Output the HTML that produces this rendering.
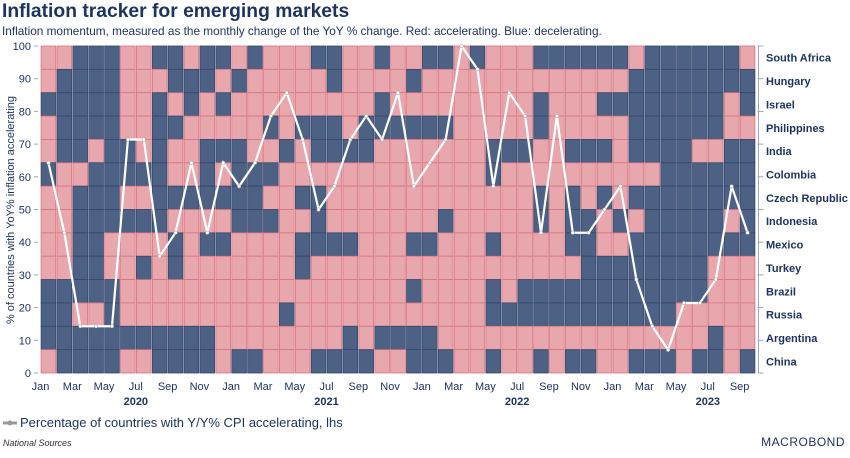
<!DOCTYPE html>
<html><head><meta charset="utf-8"><style>
body{margin:0;background:#fff;width:850px;height:453px;overflow:hidden;font-family:"Liberation Sans",sans-serif;}
</style></head><body>
<svg id="chart" width="850" height="453" viewBox="0 0 850 453" xmlns="http://www.w3.org/2000/svg" font-family="Liberation Sans, sans-serif">
<text x="2" y="17" font-size="19.3" font-weight="bold" fill="#1d3461">Inflation tracker for emerging markets</text>
<text x="2" y="35" font-size="11.8" fill="#1d3461">Inflation momentum, measured as the monthly change of the YoY % change. Red: accelerating. Blue: decelerating.</text>
<text transform="translate(14,210) rotate(-90)" text-anchor="middle" font-size="11" fill="#1d3461">% of countries with YoY% inflation accelerating</text>
<g id="cells"></g>
<g id="axes"></g>
<g id="line"></g>
<g>
<line x1="3" y1="423" x2="17" y2="423" stroke="#999" stroke-width="3"/>
<circle cx="10" cy="423" r="2.5" fill="#999"/>
<text x="20" y="427" font-size="13" fill="#1d3461">Percentage of countries with Y/Y% CPI accelerating, lhs</text>
</g>
<text x="3" y="446" font-size="9" font-style="italic" fill="#333">National Sources</text>
<text x="845" y="446" text-anchor="end" font-size="12" fill="#1d3461" letter-spacing="0.5">MACROBOND</text>
</svg>
<script>
const countries=["South Africa","Hungary","Israel","Philippines","India","Colombia","Czech Republic","Indonesia","Mexico","Turkey","Brazil","Russia","Argentina","China"];
const months=["Jan","Feb","Mar","Apr","May","Jun","Jul","Aug","Sep","Oct","Nov","Dec"];
const years=["2020","2021","2022","2023"];
// one string per month, top-to-bottom country order; R = accelerating, B = decelerating
const status=[
"RRBRRBRRRRBBBR","RBBBBRRRRRBBBB","BBBBBRBBBBBRBB","BBBBRBBBBBBRBB","BBBBBBBBRRBBBB","RRRRBBRBRRRRBR",
"RRRRRBRBRBRRBR","BRBBBBBBRRRRBB","BBRBRRBRBBRRBB","RBBRRRBRRRRRBB","BBRRBBBRBRRRBB","BRBRBRBRBRRRRR",
"RBRRBBBBRRRRRB","BRRRRBBBRRRRRB","RRRBRBRBRRRRRR","RRRRBRRRRRRBRR","RRRBRRBRBBRRRR","BRRBBRBBBRRRRB",
"BBRBBRRRBRRRRB","RRRRBRRRBRRRBB","RRRBBRRRRRRRRB","BRBBRRRRRRRRBR","RRRBRRRRRRRRBR","RBRBRRRRBRBRBB",
"BRRBRRRRBRRRBB","BRRBRRRBRRRRRB","RRRRRRRRRRRRRR","BRRRRRRRRRRRRR","RRRRBBRRBRBBRB","RRRRBRRRRRRBRR",
"RRRRBRRRRRBBRR","BRBBRRBBRRBBRB","BRRRRRRRRRBBRR","BRRRBRBBBRBBRB","BRRRBRRBBBBBRB","BRBRBRBRRBBBRR",
"BRBRRRRBRBBBRR","RBBBBRBRBBBBRB","BBBBBRBBBBBBRB","BBBBBBBBBBBBRB","BBBBBBBBBBBRRR","BBBBRBBBBBBRRB",
"BBBBRBBBBRRRBB","BBRRBBBRBRRRRR","RBBRBBBBBRRRRB"];
const pctAccel=[64.3,42.9,14.3,14.3,14.3,71.4,71.4,35.7,42.9,64.3,42.9,64.3,
57.1,64.3,78.6,85.7,71.4,50,57.1,71.4,78.6,71.4,85.7,57.1,
64.3,71.4,100,92.9,57.1,85.7,78.6,42.9,78.6,42.9,42.9,50,
57.1,28.6,14.3,7.1,21.4,21.4,28.6,57.1,42.9];
const yTicks=[0,10,20,30,40,50,60,70,80,90,100];

const NS="http://www.w3.org/2000/svg";
const X0=40.5,X1=755.5,Y0=46,Y1=373;
const n=status.length,cw=(X1-X0)/n,rh=(Y1-Y0)/countries.length;
const xLeft=i=>X0+i*cw, xCenter=i=>X0+(i+0.5)*cw;
const yVal=v=>Y1-(v/100)*(Y1-Y0);
function mk(tag,attrs,parent){const e=document.createElementNS(NS,tag);for(const k in attrs)e.setAttribute(k,attrs[k]);parent.appendChild(e);return e;}
const cells=document.getElementById('cells'),axes=document.getElementById('axes'),line=document.getElementById('line');
status.forEach((col,i)=>{
  for(let r=0;r<countries.length;r++){
    const red=col[r]==='R';
    const c=mk('rect',{x:xLeft(i)+0.6,y:Y0+r*rh,width:cw-1.2,height:rh,fill:red?'#e8a6ad':'#4d6185',stroke:red?'#d9737e':'#34466a','stroke-width':0.8},cells);
    
    
  }
});
yTicks.forEach(v=>{
  const t=mk('text',{x:31,y:yVal(v)+4,'text-anchor':'end','font-size':11,fill:'#1d3461'},axes);
  t.textContent=v;
  
  
  mk('line',{x1:34,x2:38,y1:yVal(v),y2:yVal(v),stroke:'#9aa6bd'},axes);
  mk('line',{x1:X1+2,x2:X1+8,y1:yVal(v),y2:yVal(v),stroke:'#9aa6bd'},axes);
});
mk('line',{x1:X1+3,x2:X1+3,y1:Y0,y2:Y1,stroke:'#9aa6bd'},axes);
countries.forEach((c,r)=>{
  const t=mk('text',{x:766,y:Y0+(r+0.5)*rh+4,'font-size':11,'font-weight':'bold',fill:'#1d3461'},axes);
  t.textContent=c;
  
  
});
for(let i=0;i<n;i+=2){
  const t=mk('text',{x:xLeft(i),y:390,'text-anchor':'middle','font-size':11,fill:'#1d3461'},axes);
  t.textContent=months[i%12];
  
  
}
years.forEach((y,k)=>{
  const t=mk('text',{x:xLeft(k*12+6),y:405,'text-anchor':'middle','font-size':11,'font-weight':'bold',fill:'#1d3461'},axes);
  t.textContent=y;
  
  
});
const pts=pctAccel.map((v,i)=>xCenter(i)+','+yVal(v)).join(' ');
const pl=mk('polyline',{points:pts,fill:'none',stroke:'#fff','stroke-width':2.2},line);


pctAccel.forEach((v,i)=>{
  const p=mk('circle',{cx:xCenter(i),cy:yVal(v),r:1.8,fill:'#fff',stroke:'#999','stroke-width':0.5},line);
  
  
});
</script>
</body></html>
